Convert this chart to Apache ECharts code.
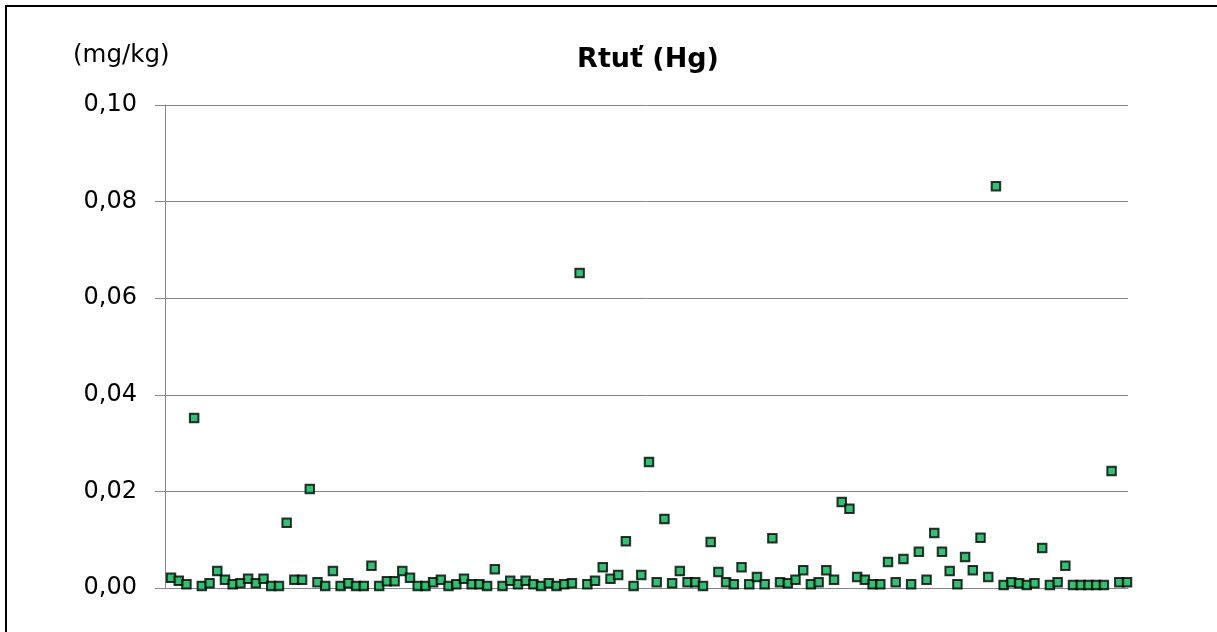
<!DOCTYPE html>
<html>
<head>
<meta charset="utf-8">
<script src="https://cdn.jsdelivr.net/npm/echarts@6/dist/echarts.min.js"></script>
<style>
html,body{margin:0;padding:0;background:#fff;}
#chart{width:1217px;height:632px;}
</style>
</head>
<body>
<div id="chart"></div>
<script>
var title = 'Rtuť (Hg)';
var unitLabel = '(mg/kg)';
var yTicks = [0, 0.02, 0.04, 0.06, 0.08, 0.10];
var hgValues = [
  0.0021, 0.0015, 0.0008, 0.0352, 0.0004, 0.0010, 0.0035, 0.0017, 0.0008, 0.0010,
  0.0019, 0.0010, 0.0019, 0.0004, 0.0004, 0.0135, 0.0017, 0.0017, 0.0205, 0.0012,
  0.0004, 0.0035, 0.0004, 0.0010, 0.0004, 0.0004, 0.0046, 0.0004, 0.0014, 0.0014,
  0.0035, 0.0021, 0.0004, 0.0004, 0.0012, 0.0017, 0.0004, 0.0008, 0.0019, 0.0008,
  0.0008, 0.0004, 0.0039, 0.0004, 0.0015, 0.0008, 0.0015, 0.0008, 0.0004, 0.0010,
  0.0004, 0.0008, 0.0010, 0.0652, 0.0008, 0.0015, 0.0043, 0.0019, 0.0027, 0.0097,
  0.0004, 0.0027, 0.0261, 0.0012, 0.0143, 0.0010, 0.0035, 0.0012, 0.0012, 0.0004,
  0.0095, 0.0033, 0.0012, 0.0008, 0.0043, 0.0008, 0.0023, 0.0008, 0.0103, 0.0012,
  0.0010, 0.0017, 0.0037, 0.0008, 0.0012, 0.0037, 0.0017, 0.0178, 0.0164, 0.0023,
  0.0017, 0.0008, 0.0008, 0.0054, 0.0012, 0.0060, 0.0008, 0.0075, 0.0017, 0.0114,
  0.0075, 0.0035, 0.0008, 0.0064, 0.0037, 0.0104, 0.0023, 0.0832, 0.0006, 0.0012,
  0.0010, 0.0006, 0.0010, 0.0083, 0.0006, 0.0012, 0.0046, 0.0006, 0.0006, 0.0006,
  0.0006, 0.0006, 0.0242, 0.0012, 0.0012
];

var seriesData = hgValues.map(function (v, i) { return [i, v]; });

var chart = echarts.init(document.getElementById('chart'), null, {renderer: 'canvas'});
var font = '"DejaVu Sans", sans-serif';
chart.setOption({
  animation: false,
  backgroundColor: '#fff',
  graphic: [{
    type: 'rect',
    shape: {x: 6, y: 6, width: 1300, height: 700},
    style: {fill: 'none', stroke: '#000', lineWidth: 2},
    silent: true, z: 0
  }, {
    type: 'text',
    left: 73, top: 43,
    style: {text: unitLabel, font: '24.5px ' + font, fill: '#000'}
  }],
  title: {
    text: title,
    left: 648, top: 41,
    textAlign: 'center',
    textStyle: {fontFamily: font, fontSize: 27, fontWeight: 'bold', color: '#000'}
  },
  grid: {left: 165, right: 89, top: 105, bottom: 44, containLabel: false},
  xAxis: {
    type: 'value',
    min: -0.78, max: 124.13,
    axisLine: {show: true, onZero: false, lineStyle: {color: '#868686', width: 1}},
    axisTick: {show: false},
    axisLabel: {show: false},
    splitLine: {show: false}
  },
  yAxis: {
    type: 'value',
    min: yTicks[0], max: yTicks[yTicks.length - 1], interval: 0.02,
    axisLine: {show: true, onZero: false, lineStyle: {color: '#868686', width: 1}},
    axisTick: {show: true, length: 10, inside: false, lineStyle: {color: '#868686'}},
    axisLabel: {
      margin: 28,
      fontFamily: font, fontSize: 24, color: '#000',
      formatter: function (v) { return v.toFixed(2).replace('.', ','); }
    },
    splitLine: {show: true, lineStyle: {color: '#868686', width: 1}}
  },
  series: [{
    type: 'scatter',
    data: seriesData,
    symbol: 'rect',
    symbolSize: 8.5,
    itemStyle: {color: '#00B050', borderColor: '#000', borderWidth: 2},
    clip: false
  }]
});
chart.setOption({title: {left: 643}});
</script>
</body>
</html>
